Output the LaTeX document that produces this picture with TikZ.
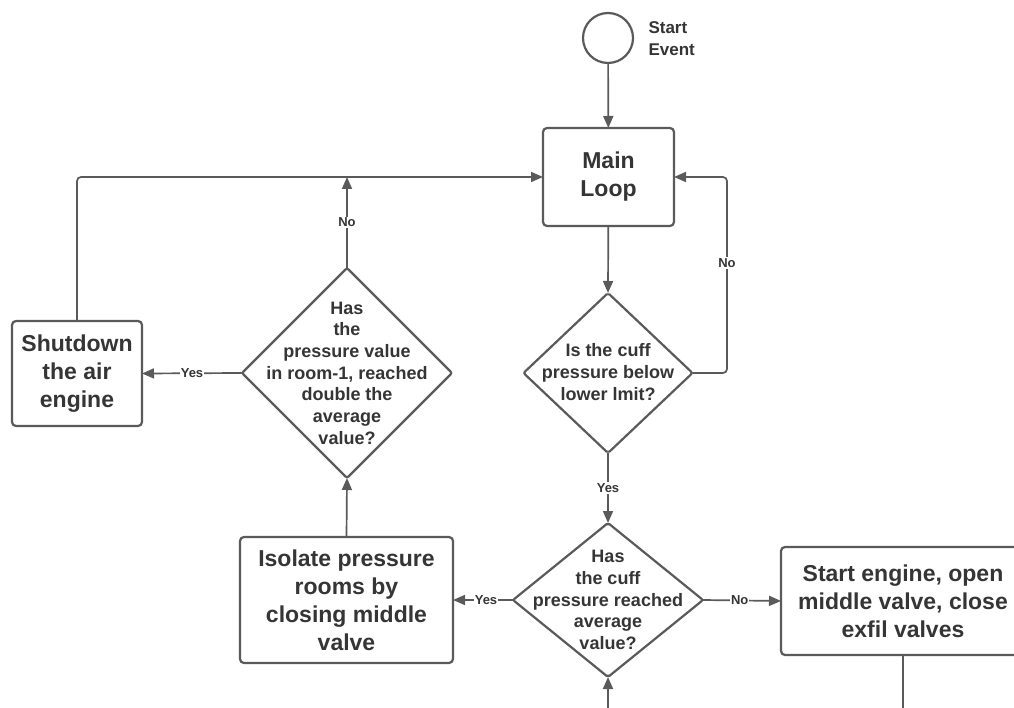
\documentclass[tikz,border=0pt]{standalone}
\usepackage{fontspec}
\setmainfont{Liberation Sans}
\usetikzlibrary{shapes.geometric,arrows.meta,calc}
\definecolor{linec}{HTML}{5A5A5A}
\definecolor{txtc}{HTML}{353535}
\begin{document}
\begin{tikzpicture}[x=1pt,y=-1pt,
  every node/.style={text=txtc},
  boxnode/.style={draw=linec,line width=2.2pt,rounded corners=4pt,fill=white,inner sep=0pt,outer sep=0pt,align=center,font=\fontsize{23}{28}\selectfont\bfseries},
  dia/.style={draw=linec,line width=2.2pt,diamond,inner sep=0pt,outer sep=0pt,rounded corners=2pt},
  diatext/.style={align=center,font=\fontsize{18}{21.7}\selectfont\bfseries},
  conn/.style={draw=linec,line width=1.7pt},
  arr/.style={conn,-{Triangle[length=12pt,width=10pt]}},
  lab/.style={fill=white,inner sep=1pt,font=\fontsize{13}{15}\selectfont\bfseries}
]
\useasboundingbox (0,0) rectangle (1014,708);
\clip (0,0) rectangle (1014,708);
\fill[white] (0,0) rectangle (1014,708);

% nodes
\node[draw=linec,line width=2.2pt,circle,minimum size=50pt,inner sep=0pt,outer sep=0pt] (start) at (608,38) {};
\node[anchor=base west,align=left,font=\fontsize{17}{22}\selectfont\bfseries] (startlab) at (645,56) {Start\\Event};
\node[boxnode,minimum width=131pt,minimum height=98pt] (main) at (608.5,177) {Main\\Loop};
\node[dia,minimum width=169pt,minimum height=160pt] (d1) at (608,373) {};
\node[diatext] (d1t) at (608,372) {Is the cuff\\pressure below\\lower lmit?};
\node[dia,minimum width=190pt,minimum height=154pt] (d2) at (608,600) {};
\node[diatext] (d2t) at (608,600) {Has\\the cuff\\pressure reached\\average\\value?};
\node[dia,minimum width=210pt,minimum height=210pt] (d3) at (347,373) {};
\node[diatext] (d3t) at (347,373) {Has\\the\\pressure value\\in room-1, reached\\double the\\average\\value?};
\node[boxnode,minimum width=130pt,minimum height=105pt] (sd) at (77,373.5) {Shutdown\\the air\\engine};
\node[boxnode,minimum width=213pt,minimum height=126pt] (iso) at (346.5,600) {Isolate pressure\\rooms by\\closing middle\\valve};
\node[boxnode,minimum width=244pt,minimum height=108pt] (se) at (903,601) {Start engine, open\\middle valve, close\\exfil valves};

\coordinate (k1) at (727,373);
\coordinate (b1) at (608,708);
\coordinate (b2) at (903,708);

% connectors
\draw[arr] (start) -- (main);
\draw[arr] (main) -- (d1.north);
\draw[arr,rounded corners=4pt] (d1.east) -- (k1) |- (main.east);
\node[lab] (no1) at (727,263) {No};
\draw[arr] (d1.south) -- (d2.north) node[lab,midway] (yes1) {Yes};
\draw[arr] (d2.west) -- (iso.east) node[lab,pos=0.45] (yes2) {Yes};
\draw[arr] (d2.east) -- (se.west) node[lab,pos=0.47] (no2) {No};
\draw[arr] (iso.north) -- (d3.south);
\draw[arr] (d3.west) -- (sd.east) node[lab,pos=0.5] (yes3) {Yes};
\draw[arr,rounded corners=4pt] (sd.north) |- (main.west);
\draw[arr] (d3.north) -- (d3.north |- main.west) node[lab,midway] (no3) {No};
\draw[arr] (b1) -- (d2.south);
\draw[conn] (se.south) -- (b2);
\end{tikzpicture}
\end{document}
